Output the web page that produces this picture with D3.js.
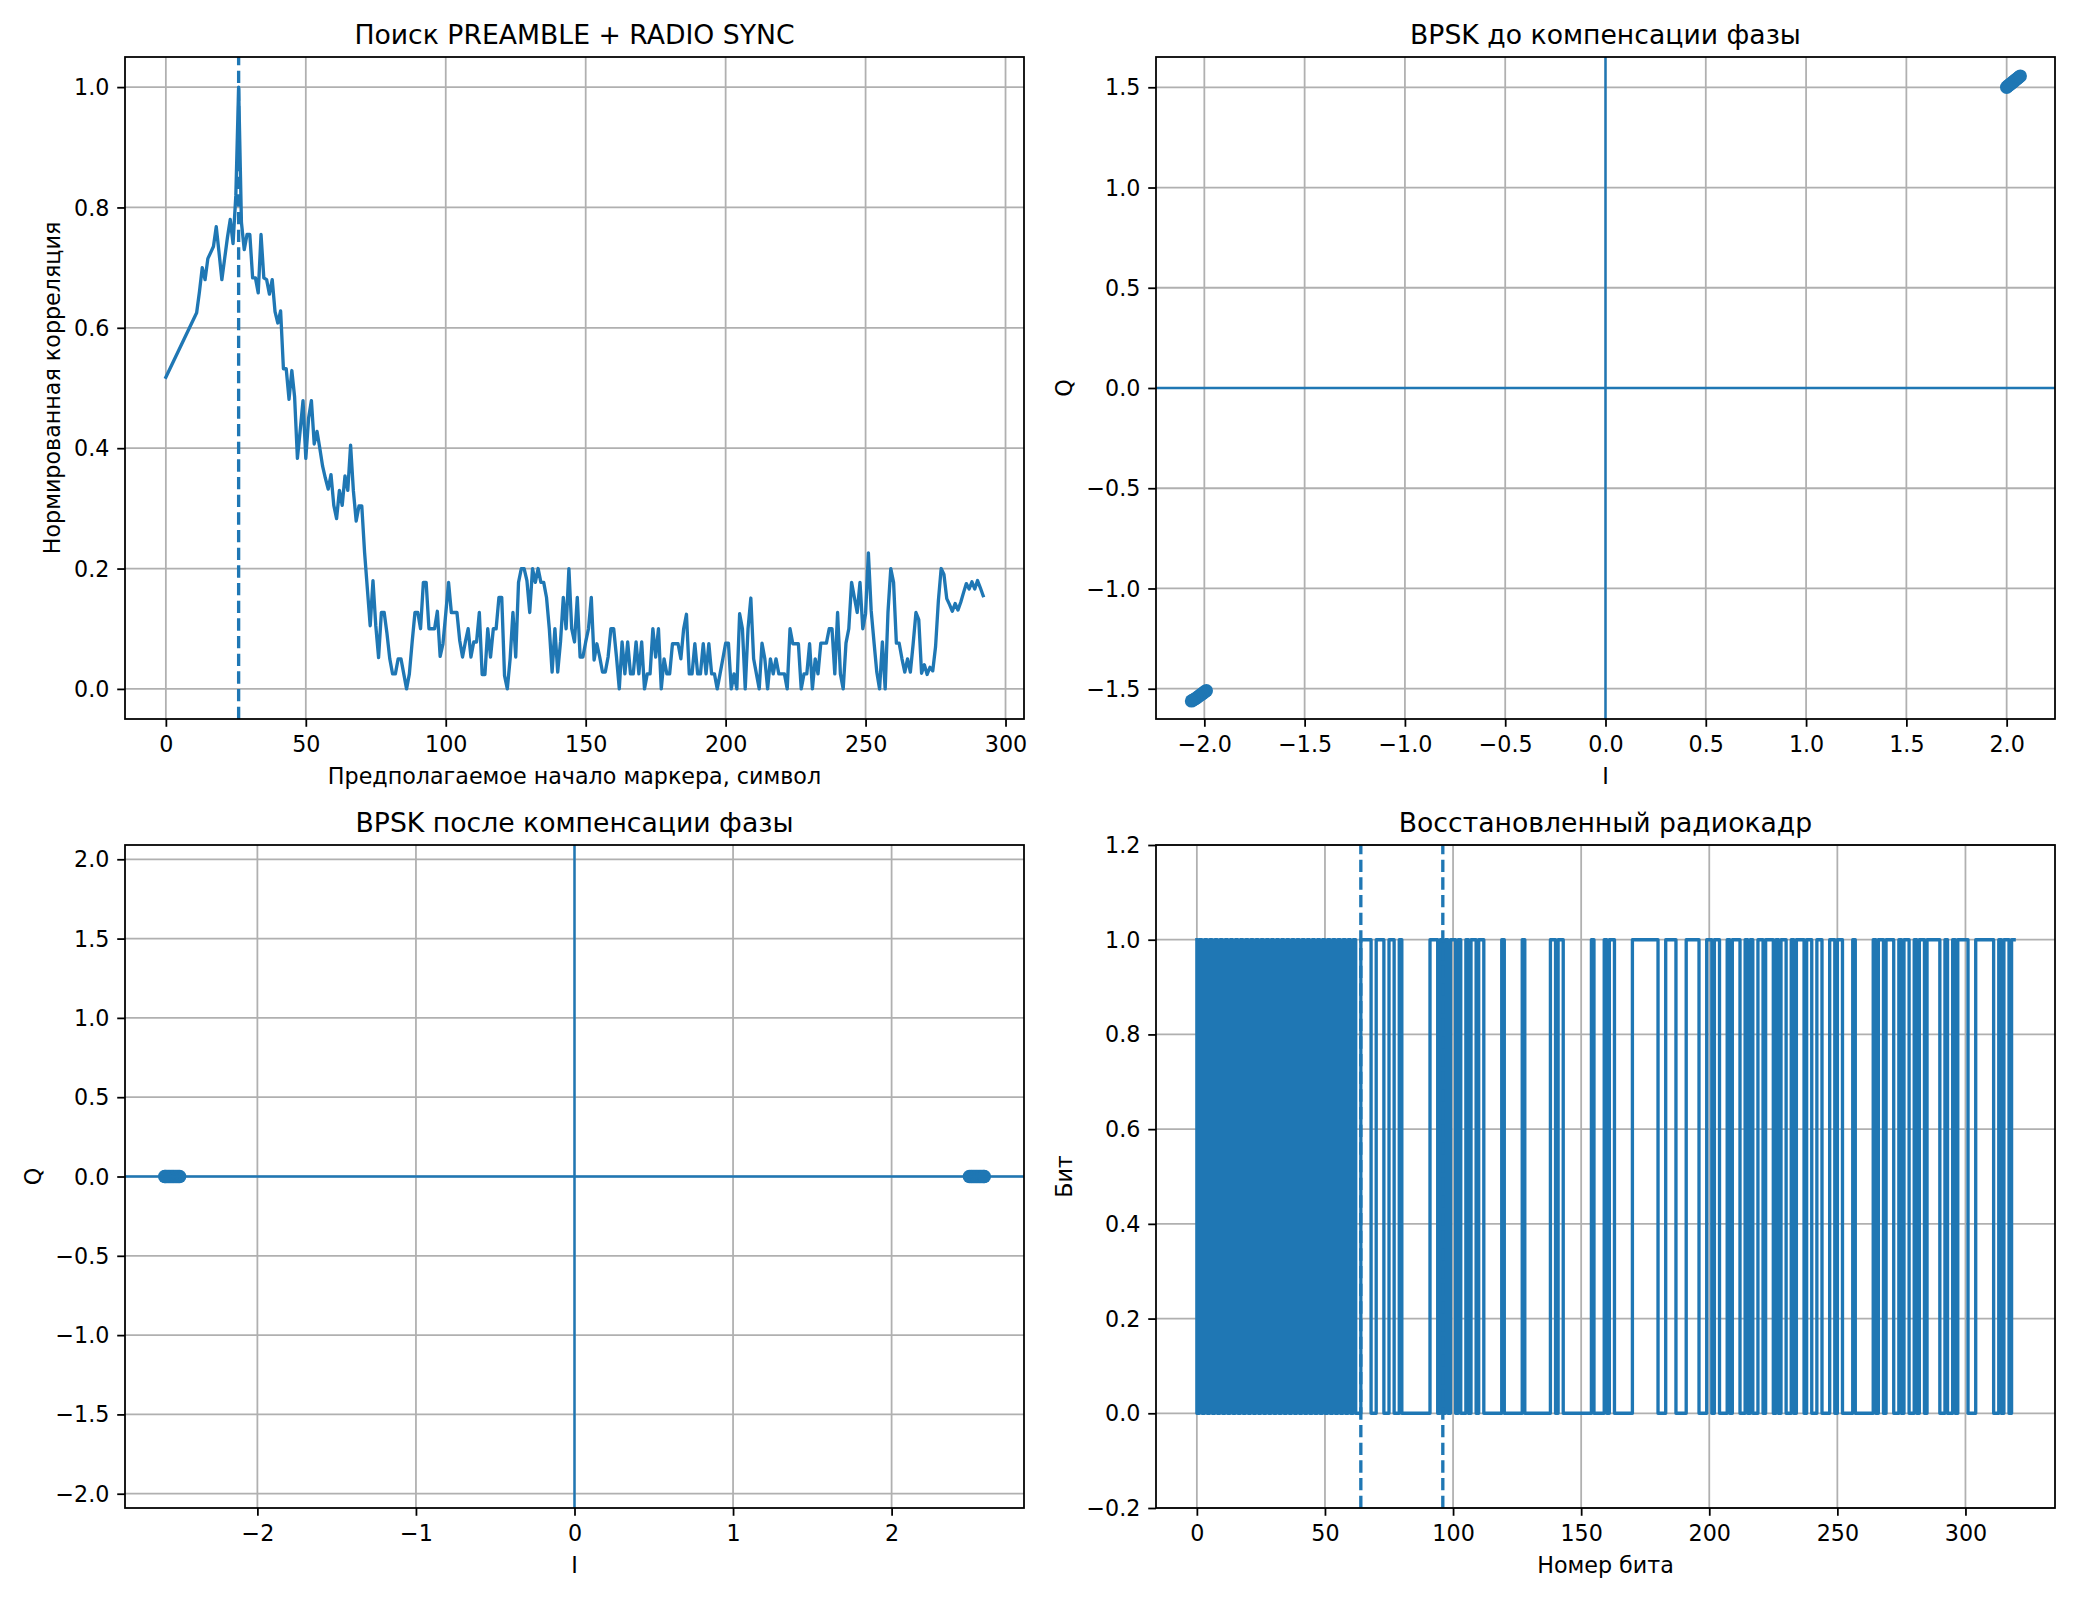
<!DOCTYPE html>
<html><head><meta charset="utf-8">
<script src="https://cdn.jsdelivr.net/npm/d3@7"></script>
<style>body{margin:0;background:#fff} svg{display:block} text{font-family:"DejaVu Sans",sans-serif}</style>
</head><body><svg id="c" width="2080" height="1600"></svg>
<script>
// ---------------- DATA ----------------
const corrStarts = [0, ...d3.range(11, 293)];
const corrValues = [0.518,
 0.625,0.66,0.70,0.68,0.715,0.725,0.735,0.768,0.725,0.68,
 0.715,0.75,0.78,0.74,0.82,1.0,0.775,0.73,0.755,0.755,
 0.683,0.683,0.658,0.755,0.683,0.68,0.656,0.68,0.627,0.608,
 0.628,0.532,0.532,0.481,0.529,0.485,0.383,0.43,0.479,0.383,
 0.45,0.479,0.407,0.428,0.40,0.37,0.35,0.332,0.356,0.305,
 0.283,0.33,0.305,0.354,0.33,0.405,0.329,0.279,0.304,0.304,
 0.227,0.166,0.105,0.18,0.105,0.052,0.127,0.127,0.092,0.05,
 0.025,0.025,0.05,0.05,0.025,0.0,0.025,0.078,0.127,0.127,
 0.10,0.177,0.177,0.10,0.10,0.10,0.129,0.054,0.075,0.125,
 0.177,0.127,0.127,0.127,0.08,0.053,0.078,0.10,0.053,0.078,
 0.078,0.127,0.024,0.024,0.10,0.053,0.10,0.10,0.152,0.152,
 0.022,0.0,0.05,0.127,0.053,0.177,0.2,0.2,0.18,0.127,
 0.2,0.177,0.2,0.177,0.177,0.152,0.10,0.028,0.10,0.028,
 0.078,0.152,0.10,0.2,0.10,0.078,0.152,0.053,0.053,0.078,
 0.10,0.152,0.048,0.075,0.053,0.028,0.028,0.053,0.10,0.10,
 0.053,0.0,0.078,0.025,0.078,0.025,0.025,0.078,0.025,0.078,
 0.0,0.025,0.025,0.10,0.053,0.10,0.0,0.05,0.025,0.025,
 0.075,0.075,0.075,0.05,0.10,0.124,0.025,0.025,0.075,0.025,
 0.025,0.075,0.025,0.075,0.025,0.025,0.0,0.025,0.05,0.076,
 0.076,0.0,0.025,0.0,0.125,0.10,0.0,0.10,0.151,0.05,
 0.025,0.0,0.076,0.05,0.0,0.05,0.025,0.05,0.025,0.025,
 0.025,0.0,0.10,0.075,0.075,0.075,0.0,0.025,0.025,0.075,
 0.0,0.05,0.025,0.076,0.076,0.076,0.10,0.10,0.025,0.127,
 0.025,0.0,0.076,0.10,0.177,0.152,0.127,0.177,0.10,0.125,
 0.226,0.13,0.078,0.028,0.0,0.078,0.0,0.127,0.2,0.177,
 0.076,0.076,0.05,0.028,0.05,0.028,0.075,0.127,0.115,0.026,
 0.04,0.024,0.036,0.03,0.07,0.146,0.2,0.19,0.15,0.14,
 0.129,0.142,0.131,0.144,0.16,0.175,0.166,0.178,0.166,0.18,
 0.168,0.155];
const corrPeak = 26;
const corrXTicks = [0, 50, 100, 150, 200, 250, 300];
const corrYTicks = [0, 0.2, 0.4, 0.6, 0.8, 1.0];

const beforeI = [2.000,2.006,2.012,2.018,2.025,2.031,2.037,2.043,2.050,2.056,2.062,2.068,
                 -1.990,-1.998,-2.005,-2.012,-2.020,-2.027,-2.035,-2.042,-2.050,-2.057,-2.064];
const beforeQ = [1.500,1.506,1.510,1.516,1.520,1.526,1.530,1.536,1.541,1.546,1.551,1.556,
                 -1.510,-1.515,-1.521,-1.526,-1.532,-1.537,-1.543,-1.548,-1.553,-1.557,-1.561];
const beforeXTicks = [-2, -1.5, -1, -0.5, 0, 0.5, 1, 1.5, 2];
const beforeYTicks = [-1.5, -1, -0.5, 0, 0.5, 1, 1.5];

const afterI = [2.490,2.500,2.508,2.517,2.526,2.535,2.544,2.553,2.562,2.571,2.580,2.585,
                -2.490,-2.499,-2.508,-2.518,-2.527,-2.536,-2.545,-2.554,-2.563,-2.572,-2.580,-2.585];
const afterQ = [0,0,0,0,0,0,0,0,0,0,0,0, 0,0,0,0,0,0,0,0,0,0,0,0];
const afterXTicks = [-2, -1, 0, 1, 2];
const afterYTicks = [-2, -1.5, -1, -0.5, 0, 0.5, 1, 1.5, 2];

const preambleBits = [1,0,1,0,1,0,1,0,1,0,1,0,1,0,1,0,1,0,1,0,1,0,1,0,1,0,1,0,1,0,1,0,
                      1,0,1,0,1,0,1,0,1,0,1,0,1,0,1,0,1,0,1,0,1,0,1,0,1,0,1,0,1,0,1,0];
const syncBits = [0,1,1,1,1,0,0,1,1,1,0,0,1,1,0,0,1,0,0,0,0,0,0,0,0,0,0,0,1,1,1,0];
const payloadBits = [
 1,0,1,0,1,1,0,1,0,0,1,0,1,1,0,1,1,
 0,0,0,0,0,0,0, 1, 0,0,0,0,0,0,0, 1, 0,0,0,0,0,0,0,0,0,0,
 1,1,0,1,1, 0,0,0,0,0,0,0,0,0,0,0, 1, 0,0,0,0, 1,0,1,1, 0,0,0,0,0,0,0,
 1,1,1,1,1,1,1,1,1,1, 0,0,0, 1,1,1,1, 0,0,0,0, 1,1,1,1,1, 0,0,0,
 1,1,0,1,1,0,0,0,1,0,
 1,1,1,0,0,1,0,1,0,0,
 1,1,0,1,1,1,0,1,0,1,
 1,0,0,1,0,1,1,1,0,1,
 1,0,0,1,1,0,0,0,1,1,
 0,1,1,0,0,0,0,1,0,0,
 0,0,0,0,0,1,0,1,1,0,
 1,1,1,0,0,1,0,1,1,0,
 0,1,0,1,1,0,1,1,1,1,
 1,0,0,1,0,0,1,0,1,1,
 1,1,0,0,0,1,1,1,1,1,
 1,1,0,0,1,0,1,1,0,1];
const frameMarkers = [64, 96];
const bitXTicks = [0, 50, 100, 150, 200, 250, 300];
const bitYTicks = [-0.2, 0, 0.2, 0.4, 0.6, 0.8, 1.0, 1.2];

// ---------------- DRAWING ----------------
const PX = 160 / 72;
const C0 = '#1f77b4';
const svg = d3.select('#c');
svg.append('rect').attr('width', 2080).attr('height', 1600).attr('fill', '#fff');
let clipN = 0;

function panel(o) {
  const g = svg.append('g').attr('transform', `translate(${o.left},${o.top})`);
  const x = d3.scaleLinear().domain(o.xDomain).range([0, o.width]);
  const y = d3.scaleLinear().domain(o.yDomain).range([o.height, 0]);
  const id = 'clip' + (clipN++);
  g.append('clipPath').attr('id', id).append('rect').attr('width', o.width).attr('height', o.height);
  const grid = g.append('g');
  grid.selectAll('line.gx').data(o.xTicks).join('line').attr('class', 'gx')
    .attr('x1', d => x(d)).attr('x2', d => x(d)).attr('y1', 0).attr('y2', o.height)
    .attr('stroke', '#b0b0b0').attr('stroke-width', 0.8 * PX);
  grid.selectAll('line.gy').data(o.yTicks).join('line').attr('class', 'gy')
    .attr('y1', d => y(d)).attr('y2', d => y(d)).attr('x1', 0).attr('x2', o.width)
    .attr('stroke', '#b0b0b0').attr('stroke-width', 0.8 * PX);
  const plot = g.append('g').attr('clip-path', `url(#${id})`);
  const xa = g.append('g').attr('transform', `translate(0,${o.height})`)
    .call(d3.axisBottom(x).tickValues(o.xTicks).tickFormat(o.xFmt)
      .tickSizeInner(3.5 * PX).tickSizeOuter(0).tickPadding(3.5 * PX));
  const ya = g.append('g')
    .call(d3.axisLeft(y).tickValues(o.yTicks).tickFormat(o.yFmt)
      .tickSizeInner(3.5 * PX).tickSizeOuter(0).tickPadding(3.5 * PX));
  [xa, ya].forEach(a => {
    a.attr('font-family', null).attr('font-size', null);
    a.select('.domain').remove();
    a.selectAll('line').attr('stroke', '#000').attr('stroke-width', 0.8 * PX);
    a.selectAll('text').attr('font-size', 10 * PX).attr('fill', '#000')
      .attr('font-family', '"DejaVu Sans", sans-serif');
  });
  xa.selectAll('text').attr('dy', '0.8em');
  ya.selectAll('text').attr('dy', '0.34em');
  g.append('rect').attr('width', o.width).attr('height', o.height)
    .attr('fill', 'none').attr('stroke', '#000').attr('stroke-width', 0.8 * PX);
  g.append('text').attr('x', o.width / 2).attr('y', -6 * PX)
    .attr('text-anchor', 'middle').attr('font-size', 12 * PX).attr('fill', '#000').text(o.title);
  g.append('text').attr('x', o.width / 2).attr('y', o.height + 65)
    .attr('text-anchor', 'middle').attr('font-size', 10 * PX).attr('fill', '#000').text(o.xlabel);
  const bb = ya.node().getBBox();
  const bx = bb.x - 4 * PX - 0.236 * 10 * PX;
  g.append('text').attr('transform', `translate(${bx},${o.height / 2}) rotate(-90)`)
    .attr('text-anchor', 'middle').attr('font-size', 10 * PX).attr('fill', '#000').text(o.ylabel);
  return { g, x, y, plot, o };
}

const f1 = d3.format('.1f');
const fd = d3.format('d');

// Panel 1: correlation
{
  const p = panel({ left: 125, top: 57, width: 899, height: 662,
    xDomain: [-14.6, 306.6], yDomain: [-0.05, 1.05], xTicks: corrXTicks, yTicks: corrYTicks,
    xFmt: fd, yFmt: f1, title: 'Поиск PREAMBLE + RADIO SYNC',
    xlabel: 'Предполагаемое начало маркера, символ', ylabel: 'Нормированная корреляция' });
  const pts = corrStarts.map((s, i) => [s, corrValues[i]]);
  p.plot.append('path').datum(pts)
    .attr('d', d3.line().x(d => p.x(d[0])).y(d => p.y(d[1])))
    .attr('fill', 'none').attr('stroke', C0).attr('stroke-width', 1.5 * PX)
    .attr('stroke-linejoin', 'round').attr('stroke-linecap', 'square');
  p.plot.append('line').attr('x1', p.x(corrPeak)).attr('x2', p.x(corrPeak))
    .attr('y1', p.o.height).attr('y2', 0)
    .attr('stroke', C0).attr('stroke-width', 1.5 * PX).attr('stroke-dasharray', `${3.7*1.5*PX},${1.6*1.5*PX}`);
}

function iqPanel(opts, I, Q) {
  const p = panel(opts);
  p.plot.selectAll('circle').data(I.map((v, i) => [v, Q[i]])).join('circle')
    .attr('cx', d => p.x(d[0])).attr('cy', d => p.y(d[1])).attr('r', 3 * PX).attr('fill', C0);
  p.plot.append('line').attr('x1', 0).attr('x2', p.o.width).attr('y1', p.y(0)).attr('y2', p.y(0))
    .attr('stroke', C0).attr('stroke-width', 1.1 * PX);
  p.plot.append('line').attr('x1', p.x(0)).attr('x2', p.x(0)).attr('y1', 0).attr('y2', p.o.height)
    .attr('stroke', C0).attr('stroke-width', 1.1 * PX);
}

iqPanel({ left: 1156, top: 57, width: 899, height: 662,
  xDomain: [-2.241, 2.241], yDomain: [-1.651, 1.651], xTicks: beforeXTicks, yTicks: beforeYTicks,
  xFmt: f1, yFmt: f1, title: 'BPSK до компенсации фазы', xlabel: 'I', ylabel: 'Q' }, beforeI, beforeQ);

iqPanel({ left: 125, top: 845, width: 899, height: 663,
  xDomain: [-2.835, 2.835], yDomain: [-2.09, 2.09], xTicks: afterXTicks, yTicks: afterYTicks,
  xFmt: fd, yFmt: f1, title: 'BPSK после компенсации фазы', xlabel: 'I', ylabel: 'Q' }, afterI, afterQ);

// Panel 4: bits
{
  const bits = [...preambleBits, ...syncBits, ...payloadBits];
  const p = panel({ left: 1156, top: 845, width: 899, height: 663,
    xDomain: [-15.95, 334.95], yDomain: [-0.2, 1.2], xTicks: bitXTicks, yTicks: bitYTicks,
    xFmt: fd, yFmt: f1, title: 'Восстановленный радиокадр', xlabel: 'Номер бита', ylabel: 'Бит' });
  p.plot.append('path').datum(bits.map((b, i) => [i, b]))
    .attr('d', d3.line().curve(d3.curveStepBefore).x(d => p.x(d[0])).y(d => p.y(d[1])))
    .attr('fill', 'none').attr('stroke', C0).attr('stroke-width', 1.5 * PX)
    .attr('stroke-linejoin', 'round').attr('stroke-linecap', 'square');
  p.plot.selectAll('line.mk').data(frameMarkers).join('line').attr('class', 'mk')
    .attr('x1', d => p.x(d)).attr('x2', d => p.x(d)).attr('y1', p.o.height).attr('y2', 0)
    .attr('stroke', C0).attr('stroke-width', 1.5 * PX).attr('stroke-dasharray', `${3.7*1.5*PX},${1.6*1.5*PX}`);
}
</script></body></html>
